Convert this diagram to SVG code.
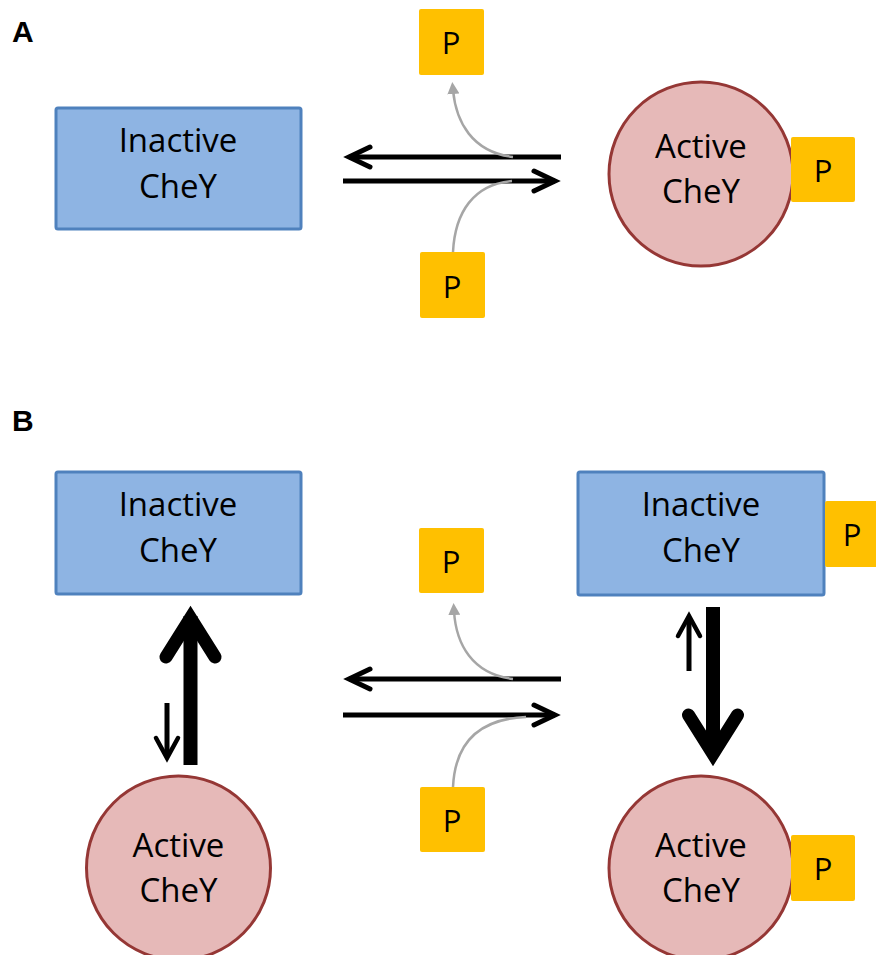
<svg xmlns="http://www.w3.org/2000/svg" width="876" height="955" viewBox="0 0 876 955">
<style>
.box{fill:#8EB4E3;stroke:#4F81BD;stroke-width:3}
.circ{fill:#E6B9B8;stroke:#953735;stroke-width:3}
.p{fill:#FFC000}
.lbl{font-family:"Open Sans","Liberation Sans",sans-serif;font-size:33px;fill:#000;text-anchor:middle}
.pt{font-family:"Open Sans","Liberation Sans",sans-serif;font-size:31px;fill:#000;text-anchor:middle}
.sec{font-family:"Liberation Sans",Arial,sans-serif;font-size:30px;font-weight:bold;fill:#000}
.blk{fill:none;stroke:#000;stroke-width:5;stroke-linecap:butt}
.hd{fill:none;stroke:#000;stroke-width:5;stroke-linecap:round;stroke-linejoin:miter}
.gry{fill:none;stroke:#A6A6A6;stroke-width:2.5}
</style>
<defs>
<marker id="gh" markerWidth="12" markerHeight="12" refX="4" refY="6" orient="auto" markerUnits="userSpaceOnUse" viewBox="0 0 12 12">
<path d="M0,0 L12,6 L0,12 z" fill="#A6A6A6"/>
</marker>
</defs>
<text class="sec" x="12" y="42">A</text>
<text class="sec" x="12" y="431">B</text>
<g id="connectors">
<path class="blk" d="M561,157 H349"/>
<path class="hd" d="M370,147 L349,157 L370,167"/>
<path class="blk" d="M343,181 H555"/>
<path class="hd" d="M534,171 L555,181 L534,191"/>
<path class="gry" d="M513,157 C472,152 456,122 453,90" marker-end="url(#gh)"/>
<path class="gry" d="M453,252 C455,212 474,184 512,181"/>
<path class="blk" d="M561,679 H349"/>
<path class="hd" d="M370,669 L349,679 L370,689"/>
<path class="blk" d="M343,715 H555"/>
<path class="hd" d="M534,705 L555,715 L534,725"/>
<path class="gry" d="M513,679 C472,674 456,644 454,611" marker-end="url(#gh)"/>
<path class="gry" d="M453,787 C455,745 476,719 526,717"/>
<path d="M190.5,765 V616" fill="none" stroke="#000" stroke-width="14"/>
<path d="M166,657 L190.5,618 L215,657" fill="none" stroke="#000" stroke-width="13" stroke-linecap="round" stroke-linejoin="miter"/>
<path d="M167,703 V756" fill="none" stroke="#000" stroke-width="5"/>
<path d="M156,738 L167,758 L178,738" fill="none" stroke="#000" stroke-width="4.5" stroke-linecap="round" stroke-linejoin="miter"/>
<path d="M713,607 V755" fill="none" stroke="#000" stroke-width="14"/>
<path d="M688.5,715 L713,754 L737.5,715" fill="none" stroke="#000" stroke-width="13" stroke-linecap="round" stroke-linejoin="miter"/>
<path d="M689,671 V618" fill="none" stroke="#000" stroke-width="5"/>
<path d="M678,636 L689,616 L700,636" fill="none" stroke="#000" stroke-width="4.5" stroke-linecap="round" stroke-linejoin="miter"/>
</g>
<g id="a-inactive">
<rect class="box" x="56" y="108" width="245" height="121" rx="2"/>
<text class="lbl" x="178" y="152">Inactive</text>
<text class="lbl" x="178" y="198">CheY</text>
</g>
<g id="a-active">
<circle class="circ" cx="701" cy="174" r="92"/>
<text class="lbl" x="701" y="158">Active</text>
<text class="lbl" x="701" y="203">CheY</text>
</g>
<g id="a-active-p">
<rect class="p" x="791" y="137" width="64" height="65" rx="2"/>
<text class="pt" x="823" y="182">P</text>
</g>
<g id="a-p-top">
<rect class="p" x="419" y="9" width="65" height="66" rx="2"/>
<text class="pt" x="451" y="54">P</text>
</g>
<g id="a-p-bottom">
<rect class="p" x="420" y="252" width="65" height="66" rx="2"/>
<text class="pt" x="452" y="298">P</text>
</g>
<g id="b-inactive-left">
<rect class="box" x="56" y="472" width="245" height="122" rx="2"/>
<text class="lbl" x="178" y="516">Inactive</text>
<text class="lbl" x="178" y="562">CheY</text>
</g>
<g id="b-active-left">
<circle class="circ" cx="178.5" cy="868" r="92"/>
<text class="lbl" x="178.5" y="857">Active</text>
<text class="lbl" x="178.5" y="902">CheY</text>
</g>
<g id="b-p-top">
<rect class="p" x="419" y="528" width="65" height="65" rx="2"/>
<text class="pt" x="451" y="573">P</text>
</g>
<g id="b-p-bottom">
<rect class="p" x="420" y="787" width="65" height="65" rx="2"/>
<text class="pt" x="452" y="832">P</text>
</g>
<g id="b-inactive-right">
<rect class="box" x="578" y="472" width="246" height="123" rx="2"/>
<text class="lbl" x="701" y="516">Inactive</text>
<text class="lbl" x="701" y="562">CheY</text>
</g>
<g id="b-inactive-right-p">
<rect class="p" x="825" y="501" width="64" height="66" rx="2"/>
<text class="pt" x="852" y="546">P</text>
</g>
<g id="b-active-right">
<circle class="circ" cx="701" cy="868" r="92"/>
<text class="lbl" x="701" y="857">Active</text>
<text class="lbl" x="701" y="902">CheY</text>
</g>
<g id="b-active-right-p">
<rect class="p" x="791" y="835" width="64" height="66" rx="2"/>
<text class="pt" x="823" y="880">P</text>
</g>
</svg>
